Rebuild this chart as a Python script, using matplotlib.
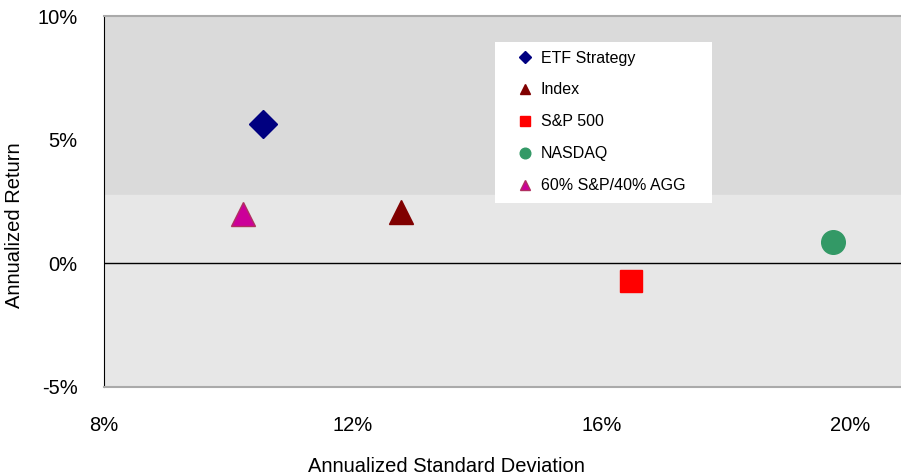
import matplotlib.pyplot as plt
from matplotlib.patches import Rectangle
from matplotlib.ticker import FuncFormatter

plt.rcParams['font.family'] = ['Liberation Sans', 'DejaVu Sans']

# data (percent)
names = ["ETF Strategy", "Index", "S&P 500", "NASDAQ", "60% S&P/40% AGG"]
std_dev = [10.55, 12.77, 16.48, 19.73, 10.24]
returns = [5.63, 2.06, -0.73, 0.85, 1.98]
markers = ["D", "^", "s", "o", "^"]
faces = ["#000080", "#800000", "#ff0000", "#339966", "#cc0099"]
edges = ["#000080", "#800000", "#ff0000", "#339966", "#b03060"]
sizes = [14, 17, 16, 17, 17]

xticks = [8, 12, 16, 20]
yticks = [-5, 0, 5, 10]
band_split = 2.75

W, H = 901, 476
fig = plt.figure(figsize=(W/100, H/100), dpi=100)
ax = fig.add_axes([104/W, 89/H, 1 - 104/W + 0.002, (387-16)/H])

ax.set_xlim(8, 20.85)
ax.set_ylim(-5, 10)
ax.axhspan(band_split, 10, color="#dadada", zorder=0)
ax.axhspan(-5, band_split, color="#e7e7e7", zorder=0)
ax.axhline(0, color="black", lw=1, zorder=1)

for n, x, y, m, fc, ec, s in zip(names, std_dev, returns, markers, faces, edges, sizes):
    ax.plot(x, y, linestyle="none", marker=m, markersize=s, markerfacecolor=fc,
            markeredgecolor=ec, markeredgewidth=1, label=n, zorder=3)

ax.set_xticks(xticks)
ax.set_yticks(yticks)
ax.xaxis.set_major_formatter(FuncFormatter(lambda v, p: f"{v:.0f}%"))
ax.yaxis.set_major_formatter(FuncFormatter(lambda v, p: f"{v:.0f}%"))
ax.tick_params(axis="x", length=0, pad=21, labelsize=14.5)
ax.tick_params(axis="y", length=0, pad=19, labelsize=14.5)

for s in ["top", "bottom"]:
    ax.spines[s].set_color("#aaaaaa")
    ax.spines[s].set_linewidth(1.5)
ax.spines["left"].set_color("black")
ax.spines["right"].set_visible(False)

fig.text(446/W, 1 - 467/H, "Annualized Standard Deviation", fontsize=14.5,
         ha="center", va="center")
fig.text(15/W, 1 - 225/H, "Annualized Return", fontsize=14.5, rotation=90,
         ha="center", va="center")

# legend box
box = Rectangle((495/W, 1 - 203/H), (712-495)/W, (203-42)/H,
                transform=fig.transFigure, facecolor="white",
                edgecolor="none", zorder=4, clip_on=False)
ax.add_patch(box)
leg = ax.legend(loc="upper left", bbox_to_anchor=(516/W, 1 - 50.5/H),
                bbox_transform=fig.transFigure, markerscale=0.45, fontsize=11.5,
                frameon=False, borderpad=0, labelspacing=1.06,
                handlelength=1.1, handletextpad=0.45, borderaxespad=0)
leg.set_zorder(5)

fig.savefig("out.png", dpi=100)
